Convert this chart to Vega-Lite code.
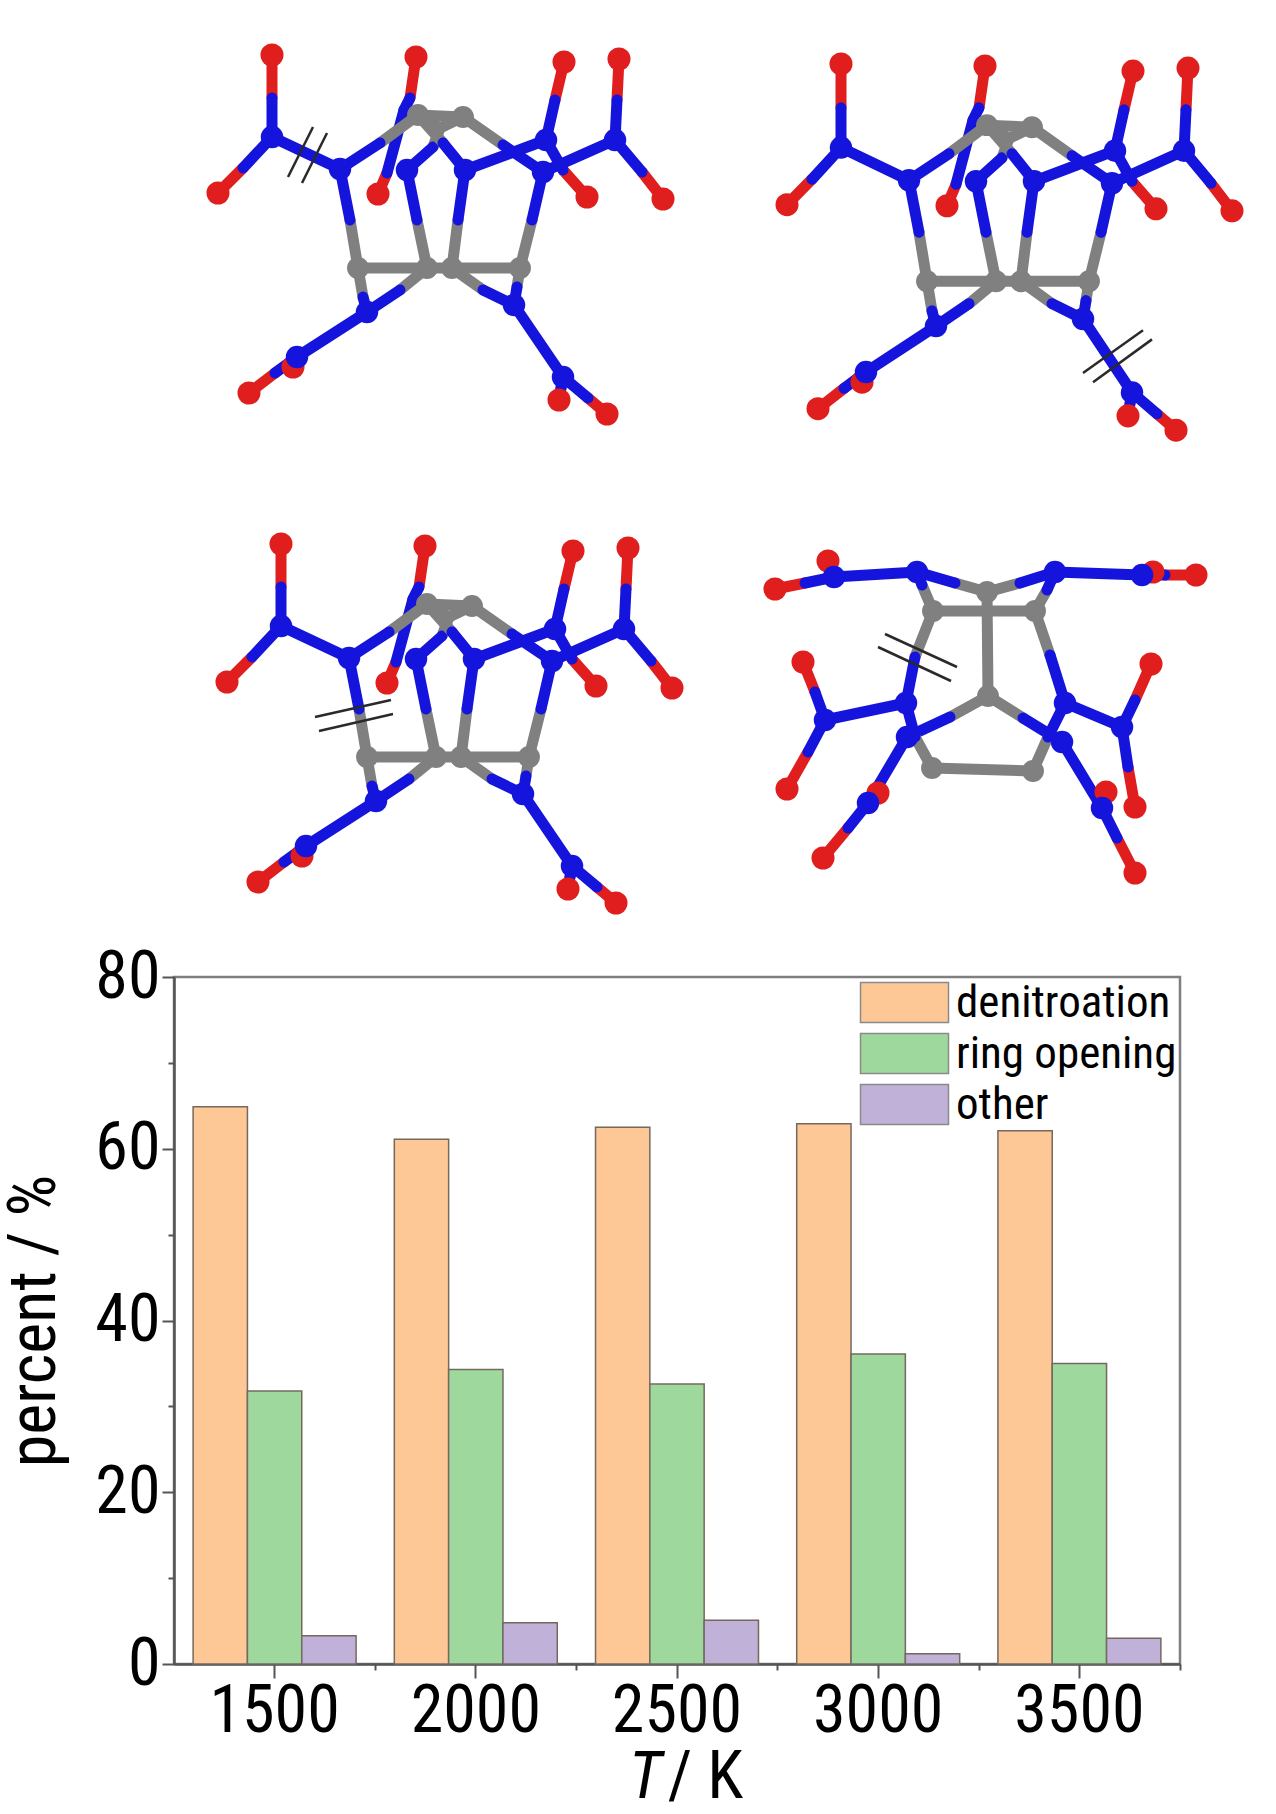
{
"$schema":"https://vega.github.io/schema/vega-lite/v6.json",
"padding":0,
"autosize":{"type":"pad"},
"background":"white",
"spacing":16,
"resolve":{"scale":{"color":"independent","size":"independent"},"legend":{"color":"independent"}},
"datasets":{
"cageBonds":[
{"x":272,"y":55,"xe":272,"ye":98,"el":"O"},{"x":272,"y":98,"xe":272,"ye":137,"el":"N"},
{"x":218,"y":193,"xe":243,"ye":168,"el":"O"},{"x":243,"y":168,"xe":272,"ye":137,"el":"N"},
{"x":416,"y":57,"xe":410,"ye":98,"el":"O"},{"x":410,"y":98,"xe":404,"ye":110,"el":"N"},
{"x":378,"y":194,"xe":387,"ye":173,"el":"O"},{"x":387,"y":173,"xe":404,"ye":110,"el":"N"},
{"x":564,"y":62,"xe":555,"ye":100,"el":"O"},{"x":555,"y":100,"xe":546,"ye":140,"el":"N"},
{"x":587,"y":197,"xe":563,"ye":170,"el":"O"},{"x":563,"y":170,"xe":546,"ye":140,"el":"N"},
{"x":619,"y":59,"xe":617,"ye":100,"el":"O"},{"x":617,"y":100,"xe":615,"ye":140,"el":"N"},
{"x":663,"y":199,"xe":642,"ye":172,"el":"O"},{"x":642,"y":172,"xe":615,"ye":140,"el":"N"},
{"x":272,"y":137,"xe":340,"ye":169,"el":"N"},
{"x":615,"y":140,"xe":543,"ye":172,"el":"N"},
{"x":465,"y":170,"xe":546,"ye":140,"el":"N"},
{"x":358,"y":268,"xe":350,"ye":220,"el":"C"},{"x":350,"y":220,"xe":340,"ye":169,"el":"N"},
{"x":418,"y":115,"xe":380,"ye":143,"el":"C"},{"x":380,"y":143,"xe":340,"ye":169,"el":"N"},
{"x":440,"y":128,"xe":433,"ye":147,"el":"C"},{"x":433,"y":147,"xe":407,"ye":170,"el":"N"},
{"x":427,"y":268,"xe":417,"ye":220,"el":"C"},{"x":417,"y":220,"xe":407,"ye":170,"el":"N"},
{"x":452,"y":268,"xe":458,"ye":220,"el":"C"},{"x":458,"y":220,"xe":465,"ye":170,"el":"N"},
{"x":418,"y":115,"xe":443,"ye":143,"el":"C"},{"x":443,"y":143,"xe":465,"ye":170,"el":"N"},
{"x":520,"y":268,"xe":532,"ye":220,"el":"C"},{"x":532,"y":220,"xe":543,"ye":172,"el":"N"},
{"x":463,"y":117,"xe":503,"ye":145,"el":"C"},{"x":503,"y":145,"xe":543,"ye":172,"el":"N"},
{"x":418,"y":115,"xe":463,"ye":117,"el":"C"},{"x":418,"y":115,"xe":440,"ye":128,"el":"C"},{"x":463,"y":117,"xe":440,"ye":128,"el":"C"},
{"x":358,"y":268,"xe":427,"ye":268,"el":"C"},{"x":427,"y":268,"xe":452,"ye":268,"el":"C"},{"x":452,"y":268,"xe":520,"ye":268,"el":"C"},
{"x":358,"y":268,"xe":363,"ye":297,"el":"C"},{"x":363,"y":297,"xe":367,"ye":312,"el":"N"},
{"x":427,"y":268,"xe":400,"ye":290,"el":"C"},{"x":400,"y":290,"xe":367,"ye":312,"el":"N"},
{"x":452,"y":268,"xe":483,"ye":290,"el":"C"},{"x":483,"y":290,"xe":514,"ye":305,"el":"N"},
{"x":520,"y":268,"xe":517,"ye":287,"el":"C"},{"x":517,"y":287,"xe":514,"ye":305,"el":"N"},
{"x":293,"y":367,"xe":295,"ye":362,"el":"O"},{"x":295,"y":362,"xe":297,"ye":357,"el":"N"},
{"x":367,"y":312,"xe":297,"ye":357,"el":"N"},{"x":514,"y":305,"xe":563,"ye":377,"el":"N"},
{"x":249,"y":393,"xe":275,"ye":373,"el":"O"},{"x":275,"y":373,"xe":297,"ye":357,"el":"N"},
{"x":559,"y":400,"xe":561,"ye":388,"el":"O"},{"x":561,"y":388,"xe":563,"ye":377,"el":"N"},
{"x":607,"y":414,"xe":588,"ye":398,"el":"O"},{"x":588,"y":398,"xe":563,"ye":377,"el":"N"}
],
"cageAtoms":[
{"x":293,"y":367,"el":"O"},{"x":378,"y":194,"el":"O"},{"x":587,"y":197,"el":"O"},
{"x":272,"y":55,"el":"O"},{"x":416,"y":57,"el":"O"},{"x":564,"y":62,"el":"O"},{"x":619,"y":59,"el":"O"},{"x":218,"y":193,"el":"O"},{"x":663,"y":199,"el":"O"},{"x":249,"y":393,"el":"O"},{"x":607,"y":414,"el":"O"},
{"x":272,"y":137,"el":"N"},{"x":546,"y":140,"el":"N"},{"x":615,"y":140,"el":"N"},{"x":297,"y":357,"el":"N"},{"x":563,"y":377,"el":"N"},
{"x":340,"y":169,"el":"N"},{"x":407,"y":170,"el":"N"},{"x":465,"y":170,"el":"N"},{"x":543,"y":172,"el":"N"},{"x":367,"y":312,"el":"N"},{"x":514,"y":305,"el":"N"},
{"x":559,"y":400,"el":"O"},
{"x":418,"y":115,"el":"C"},{"x":463,"y":117,"el":"C"},{"x":358,"y":268,"el":"C"},{"x":427,"y":268,"el":"C"},{"x":452,"y":268,"el":"C"},{"x":520,"y":268,"el":"C"}
],
"openBonds":[
{"x":775,"y":589,"xe":805,"ye":583,"el":"O"},{"x":805,"y":583,"xe":834,"ye":577,"el":"N"},
{"x":828,"y":561,"xe":831,"ye":569,"el":"O"},{"x":831,"y":569,"xe":834,"ye":577,"el":"N"},
{"x":834,"y":577,"xe":917,"ye":572,"el":"N"},
{"x":987,"y":592,"xe":955,"ye":583,"el":"C"},{"x":955,"y":583,"xe":917,"ye":572,"el":"N"},
{"x":987,"y":592,"xe":1020,"ye":583,"el":"C"},{"x":1020,"y":583,"xe":1055,"ye":572,"el":"N"},
{"x":933,"y":611,"xe":922,"ye":585,"el":"C"},{"x":922,"y":585,"xe":917,"ye":572,"el":"N"},
{"x":1035,"y":611,"xe":1047,"ye":590,"el":"C"},{"x":1047,"y":590,"xe":1055,"ye":572,"el":"N"},
{"x":1055,"y":572,"xe":1142,"ye":575,"el":"N"},
{"x":1196,"y":575,"xe":1165,"ye":575,"el":"O"},{"x":1165,"y":575,"xe":1142,"ye":575,"el":"N"},
{"x":1153,"y":572,"xe":1147,"ye":574,"el":"O"},{"x":1147,"y":574,"xe":1142,"ye":575,"el":"N"},
{"x":933,"y":611,"xe":1035,"ye":611,"el":"C"},{"x":987,"y":592,"xe":988,"ye":696,"el":"C"},
{"x":933,"y":611,"xe":915,"ye":657,"el":"C"},{"x":915,"y":657,"xe":906,"ye":703,"el":"N"},
{"x":1035,"y":611,"xe":1050,"ye":655,"el":"C"},{"x":1050,"y":655,"xe":1065,"ye":703,"el":"N"},
{"x":906,"y":703,"xe":825,"ye":720,"el":"N"},{"x":1065,"y":703,"xe":1122,"ye":727,"el":"N"},
{"x":803,"y":662,"xe":815,"ye":692,"el":"O"},{"x":815,"y":692,"xe":825,"ye":720,"el":"N"},
{"x":787,"y":789,"xe":808,"ye":752,"el":"O"},{"x":808,"y":752,"xe":825,"ye":720,"el":"N"},
{"x":1151,"y":664,"xe":1135,"ye":700,"el":"O"},{"x":1135,"y":700,"xe":1122,"ye":727,"el":"N"},
{"x":1135,"y":807,"xe":1128,"ye":767,"el":"O"},{"x":1128,"y":767,"xe":1122,"ye":727,"el":"N"},
{"x":988,"y":696,"xe":950,"ye":717,"el":"C"},{"x":950,"y":717,"xe":907,"ye":737,"el":"N"},
{"x":988,"y":696,"xe":1023,"ye":718,"el":"C"},{"x":1023,"y":718,"xe":1062,"ye":742,"el":"N"},
{"x":932,"y":768,"xe":915,"ye":737,"el":"C"},{"x":915,"y":737,"xe":906,"ye":703,"el":"N"},
{"x":1033,"y":771,"xe":1048,"ye":737,"el":"C"},{"x":1048,"y":737,"xe":1065,"ye":703,"el":"N"},
{"x":932,"y":768,"xe":1033,"ye":771,"el":"C"},
{"x":878,"y":793,"xe":873,"ye":798,"el":"O"},{"x":1106,"y":792,"xe":1104,"ye":800,"el":"O"},
{"x":907,"y":737,"xe":868,"ye":803,"el":"N"},{"x":1062,"y":742,"xe":1102,"ye":808,"el":"N"},
{"x":823,"y":858,"xe":848,"ye":828,"el":"O"},{"x":848,"y":828,"xe":868,"ye":803,"el":"N"},
{"x":1135,"y":873,"xe":1117,"ye":838,"el":"O"},{"x":1117,"y":838,"xe":1102,"ye":808,"el":"N"}
],
"openAtoms":[
{"x":828,"y":561,"el":"O"},{"x":1153,"y":572,"el":"O"},{"x":878,"y":793,"el":"O"},{"x":1106,"y":792,"el":"O"},
{"x":775,"y":589,"el":"O"},{"x":1196,"y":575,"el":"O"},{"x":803,"y":662,"el":"O"},{"x":787,"y":789,"el":"O"},{"x":1151,"y":664,"el":"O"},{"x":1135,"y":807,"el":"O"},{"x":823,"y":858,"el":"O"},{"x":1135,"y":873,"el":"O"},
{"x":834,"y":577,"el":"N"},{"x":1142,"y":575,"el":"N"},{"x":825,"y":720,"el":"N"},{"x":1122,"y":727,"el":"N"},{"x":868,"y":803,"el":"N"},{"x":1102,"y":808,"el":"N"},
{"x":917,"y":572,"el":"N"},{"x":1055,"y":572,"el":"N"},{"x":906,"y":703,"el":"N"},{"x":1065,"y":703,"el":"N"},{"x":907,"y":737,"el":"N"},{"x":1062,"y":742,"el":"N"},
{"x":987,"y":592,"el":"C"},{"x":933,"y":611,"el":"C"},{"x":1035,"y":611,"el":"C"},{"x":988,"y":696,"el":"C"},{"x":932,"y":768,"el":"C"},{"x":1033,"y":771,"el":"C"}
],
"cuts1":[{"x":313,"y":127,"xe":288,"ye":177},{"x":327,"y":133,"xe":302,"ye":183}],
"cuts2":[{"x":514,"y":358,"xe":574,"ye":316},{"x":524,"y":367,"xe":583,"ye":325}],
"cuts3":[{"x":306,"y":228,"xe":382,"ye":211},{"x":310,"y":242,"xe":384,"ye":225}],
"cuts4":[{"x":885,"y":634,"xe":957,"ye":667},{"x":878,"y":647,"xe":951,"ye":681}],
"shares":[
{"T":"1500","pathway":"denitroation","percent":64.9},{"T":"1500","pathway":"ring opening","percent":31.8},{"T":"1500","pathway":"other","percent":3.3},
{"T":"2000","pathway":"denitroation","percent":61.1},{"T":"2000","pathway":"ring opening","percent":34.3},{"T":"2000","pathway":"other","percent":4.8},
{"T":"2500","pathway":"denitroation","percent":62.5},{"T":"2500","pathway":"ring opening","percent":32.6},{"T":"2500","pathway":"other","percent":5.1},
{"T":"3000","pathway":"denitroation","percent":62.9},{"T":"3000","pathway":"ring opening","percent":36.1},{"T":"3000","pathway":"other","percent":1.2},
{"T":"3500","pathway":"denitroation","percent":62.1},{"T":"3500","pathway":"ring opening","percent":35.0},{"T":"3500","pathway":"other","percent":3.0}
]
},
"vconcat":[
{
"width":1102,"height":926,"view":{"stroke":null},
"resolve":{"scale":{"x":"independent","y":"independent"}},
"layer":[
{"layer":[
{"data":{"name":"cageBonds"},"mark":{"type":"rule","strokeWidth":11,"strokeCap":"round"},"encoding":{"x":{"field":"x","type":"quantitative","axis":null,"scale":{"domain":[174,1276],"nice":false,"zero":false}},"y":{"field":"y","type":"quantitative","axis":null,"scale":{"domain":[926,0],"nice":false,"zero":false}},"x2":{"field":"xe"},"y2":{"field":"ye"},"color":{"field":"el","type":"nominal","legend":null,"scale":{"domain":["C","N","O"],"range":["#808080","#1414DC","#E01E1E"]}}}},
{"data":{"name":"cageAtoms"},"mark":{"type":"circle","opacity":1},"encoding":{"x":{"field":"x","type":"quantitative","axis":null,"scale":{"domain":[174,1276],"nice":false,"zero":false}},"y":{"field":"y","type":"quantitative","axis":null,"scale":{"domain":[926,0],"nice":false,"zero":false}},"size":{"field":"el","type":"ordinal","legend":null,"scale":{"domain":["C","N","O"],"range":[480,530,730]}},"color":{"field":"el","type":"nominal","legend":null,"scale":{"domain":["C","N","O"],"range":["#808080","#1414DC","#E01E1E"]}}}},
{"data":{"name":"cuts1"},"mark":{"type":"rule","strokeWidth":2.5,"color":"#2a2a2a"},"encoding":{"x":{"field":"x","type":"quantitative","axis":null,"scale":{"domain":[174,1276],"nice":false,"zero":false}},"y":{"field":"y","type":"quantitative","axis":null,"scale":{"domain":[926,0],"nice":false,"zero":false}},"x2":{"field":"xe"},"y2":{"field":"ye"}}}
]},
{"layer":[
{"data":{"name":"cageBonds"},"mark":{"type":"rule","strokeWidth":11,"strokeCap":"round"},"encoding":{"x":{"field":"x","type":"quantitative","axis":null,"scale":{"domain":[-395,707],"nice":false,"zero":false}},"y":{"field":"y","type":"quantitative","axis":null,"scale":{"domain":[900.1,-7.7],"nice":false,"zero":false}},"x2":{"field":"xe"},"y2":{"field":"ye"},"color":{"field":"el","type":"nominal","legend":null,"scale":{"domain":["C","N","O"],"range":["#808080","#1414DC","#E01E1E"]}}}},
{"data":{"name":"cageAtoms"},"mark":{"type":"circle","opacity":1},"encoding":{"x":{"field":"x","type":"quantitative","axis":null,"scale":{"domain":[-395,707],"nice":false,"zero":false}},"y":{"field":"y","type":"quantitative","axis":null,"scale":{"domain":[900.1,-7.7],"nice":false,"zero":false}},"size":{"field":"el","type":"ordinal","legend":null,"scale":{"domain":["C","N","O"],"range":[480,530,730]}},"color":{"field":"el","type":"nominal","legend":null,"scale":{"domain":["C","N","O"],"range":["#808080","#1414DC","#E01E1E"]}}}},
{"data":{"name":"cuts2"},"mark":{"type":"rule","strokeWidth":2.5,"color":"#2a2a2a"},"encoding":{"x":{"field":"x","type":"quantitative","axis":null,"scale":{"domain":[-395,707],"nice":false,"zero":false}},"y":{"field":"y","type":"quantitative","axis":null,"scale":{"domain":[900.1,-7.7],"nice":false,"zero":false}},"x2":{"field":"xe"},"y2":{"field":"ye"}}}
]},
{"layer":[
{"data":{"name":"cageBonds"},"mark":{"type":"rule","strokeWidth":11,"strokeCap":"round"},"encoding":{"x":{"field":"x","type":"quantitative","axis":null,"scale":{"domain":[165,1267],"nice":false,"zero":false}},"y":{"field":"y","type":"quantitative","axis":null,"scale":{"domain":[437,-489],"nice":false,"zero":false}},"x2":{"field":"xe"},"y2":{"field":"ye"},"color":{"field":"el","type":"nominal","legend":null,"scale":{"domain":["C","N","O"],"range":["#808080","#1414DC","#E01E1E"]}}}},
{"data":{"name":"cageAtoms"},"mark":{"type":"circle","opacity":1},"encoding":{"x":{"field":"x","type":"quantitative","axis":null,"scale":{"domain":[165,1267],"nice":false,"zero":false}},"y":{"field":"y","type":"quantitative","axis":null,"scale":{"domain":[437,-489],"nice":false,"zero":false}},"size":{"field":"el","type":"ordinal","legend":null,"scale":{"domain":["C","N","O"],"range":[480,530,730]}},"color":{"field":"el","type":"nominal","legend":null,"scale":{"domain":["C","N","O"],"range":["#808080","#1414DC","#E01E1E"]}}}},
{"data":{"name":"cuts3"},"mark":{"type":"rule","strokeWidth":2.5,"color":"#2a2a2a"},"encoding":{"x":{"field":"x","type":"quantitative","axis":null,"scale":{"domain":[165,1267],"nice":false,"zero":false}},"y":{"field":"y","type":"quantitative","axis":null,"scale":{"domain":[437,-489],"nice":false,"zero":false}},"x2":{"field":"xe"},"y2":{"field":"ye"}}}
]},
{"layer":[
{"data":{"name":"openBonds"},"mark":{"type":"rule","strokeWidth":11,"strokeCap":"round"},"encoding":{"x":{"field":"x","type":"quantitative","axis":null,"scale":{"domain":[174,1276],"nice":false,"zero":false}},"y":{"field":"y","type":"quantitative","axis":null,"scale":{"domain":[926,0],"nice":false,"zero":false}},"x2":{"field":"xe"},"y2":{"field":"ye"},"color":{"field":"el","type":"nominal","legend":null,"scale":{"domain":["C","N","O"],"range":["#808080","#1414DC","#E01E1E"]}}}},
{"data":{"name":"openAtoms"},"mark":{"type":"circle","opacity":1},"encoding":{"x":{"field":"x","type":"quantitative","axis":null,"scale":{"domain":[174,1276],"nice":false,"zero":false}},"y":{"field":"y","type":"quantitative","axis":null,"scale":{"domain":[926,0],"nice":false,"zero":false}},"size":{"field":"el","type":"ordinal","legend":null,"scale":{"domain":["C","N","O"],"range":[480,530,730]}},"color":{"field":"el","type":"nominal","legend":null,"scale":{"domain":["C","N","O"],"range":["#808080","#1414DC","#E01E1E"]}}}},
{"data":{"name":"cuts4"},"mark":{"type":"rule","strokeWidth":2.5,"color":"#2a2a2a"},"encoding":{"x":{"field":"x","type":"quantitative","axis":null,"scale":{"domain":[174,1276],"nice":false,"zero":false}},"y":{"field":"y","type":"quantitative","axis":null,"scale":{"domain":[926,0],"nice":false,"zero":false}},"x2":{"field":"xe"},"y2":{"field":"ye"}}}
]}
]
},
{
"width":1006,"height":687,
"view":{"stroke":"#7f7f7f","strokeWidth":2.5},
"data":{"name":"shares"},
"resolve":{"axis":{"x":"independent","y":"independent"}},
"layer":[
{
"mark":{"type":"bar","stroke":"#75695f","strokeWidth":1.5},
"encoding":{
"x":{"field":"T","type":"nominal","scale":{"paddingInner":0.19,"paddingOuter":0.095},
"axis":{"orient":"bottom","labelAngle":0,"labelFont":"Roboto Condensed","labelFontSize":66,"labelColor":"#000","labelPadding":1,"tickSize":14,"tickColor":"#555","tickWidth":2,"domainColor":"#555","domainWidth":2.5,"title":"/ K","titleFont":"Roboto Condensed","titleFontSize":66,"titleFontWeight":"normal","titleColor":"#000","titleX":531,"titleY":133,"titleBaseline":"alphabetic"}},
"xOffset":{"field":"pathway","type":"nominal","sort":["denitroation","ring opening","other"],"scale":{"domain":["denitroation","ring opening","other"],"paddingInner":0,"paddingOuter":0}},
"y":{"field":"percent","type":"quantitative","scale":{"domain":[0,80],"nice":false},
"axis":{"orient":"left","values":[0,20,40,60,80],"labelFont":"Roboto Condensed","labelFontSize":66,"labelColor":"#000","labelPadding":2,"tickSize":12,"tickColor":"#555","tickWidth":2,"domainColor":"#555","domainWidth":2.5,"grid":false,"title":"percent / %","titleFont":"Roboto Condensed","titleFontSize":66,"titleFontWeight":"normal","titleColor":"#000","titlePadding":26}},
"color":{"field":"pathway","type":"nominal","scale":{"domain":["denitroation","ring opening","other"],"range":["#FDC796","#9FD89C","#BFB1D7"]},
"legend":{"title":null,"orient":"none","legendX":708,"legendY":3,"padding":0,"symbolType":"M-2.2,-1H2.2V1H-2.2Z","symbolSize":1600,"symbolStrokeColor":"#8a8a8a","symbolStrokeWidth":1.5,"labelFont":"Roboto Condensed","labelFontSize":45,"labelColor":"#000","labelOffset":29,"rowPadding":4,"labelLimit":400}}
}
},
{
"mark":{"type":"tick","opacity":0},
"encoding":{
"x":{"field":"T","type":"nominal","axis":{"orient":"bottom","bandPosition":1,"tickOffset":19,"labels":false,"domain":false,"tickSize":6,"tickColor":"#555","tickWidth":2,"title":"T","titleFont":"Roboto Condensed","titleFontSize":66,"titleFontStyle":"italic","titleFontWeight":"normal","titleColor":"#000","titleX":471,"titleY":133,"titleBaseline":"alphabetic"}},
"y":{"field":"percent","type":"quantitative","axis":{"orient":"left","values":[10,30,50,70],"labels":false,"domain":false,"grid":false,"tickSize":6,"tickColor":"#555","tickWidth":2,"title":null}}
}
}
]
}
],
"config":{"axis":{"grid":false}}
}
